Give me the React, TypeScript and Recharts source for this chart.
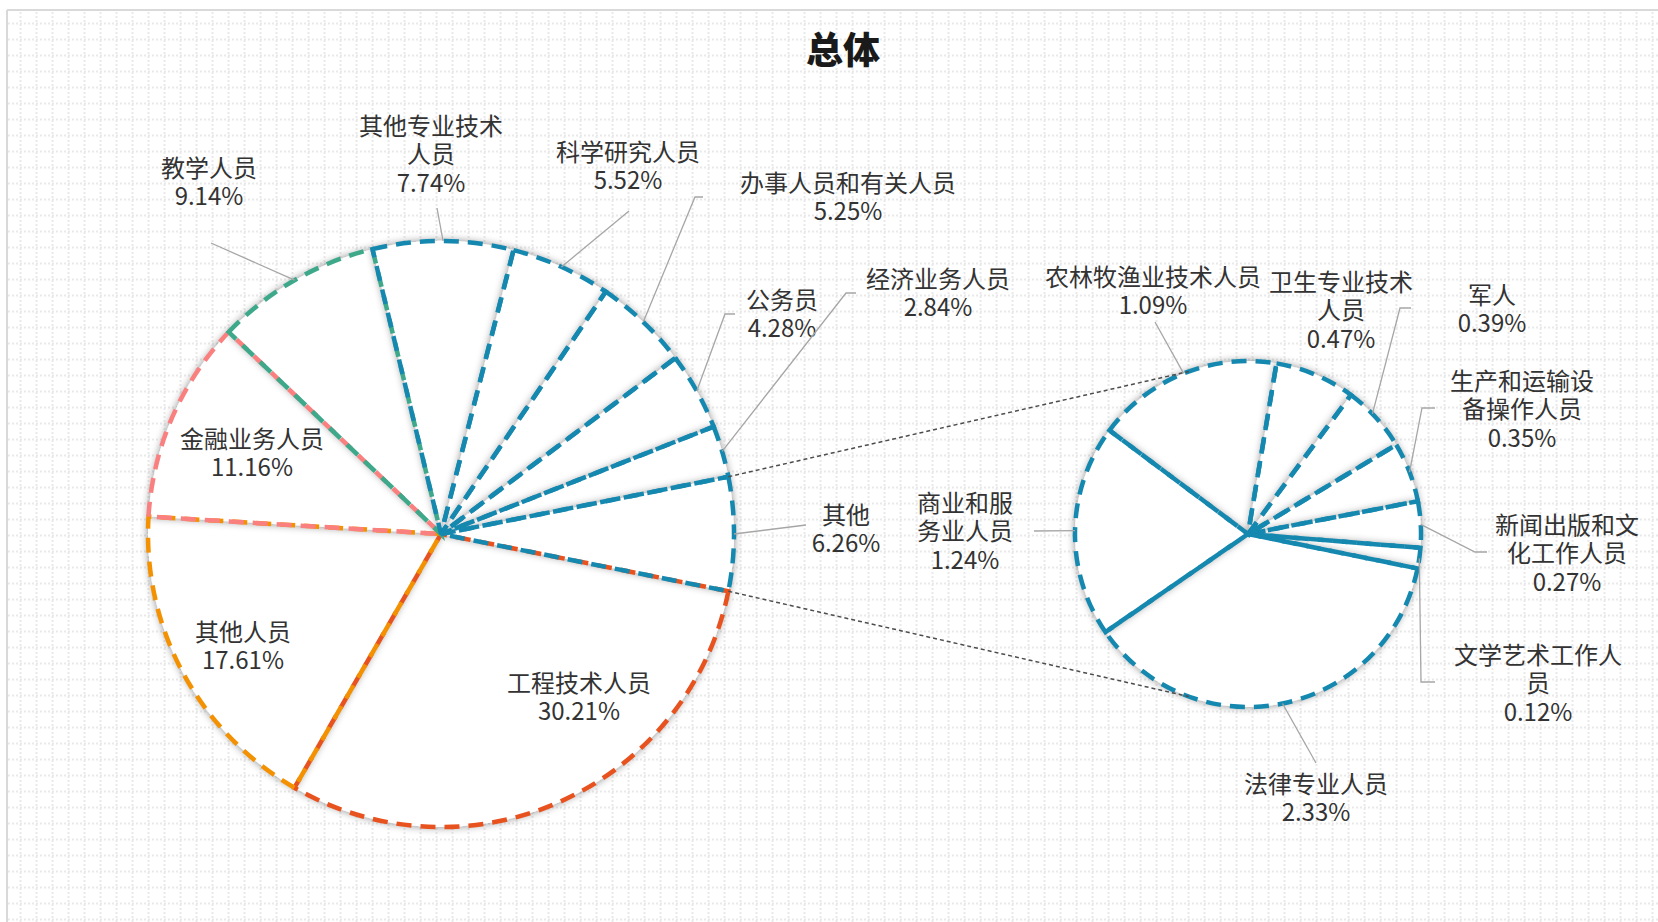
import React from 'react';
import { PieChart, Pie, Cell } from 'recharts';

// ---------- data ----------
const mainCategories = ['工程技术人员', '其他人员', '金融业务人员', '教学人员', '其他专业技术人员', '科学研究人员', '办事人员和有关人员', '公务员', '经济业务人员', '其他'];
const mainValues = [30.21, 17.61, 11.16, 9.14, 7.74, 5.52, 5.25, 4.28, 2.84, 6.26];
const mainLabelLines = [['工程技术人员'], ['其他人员'], ['金融业务人员'], ['教学人员'], ['其他专业技术', '人员'], ['科学研究人员'], ['办事人员和有关人员'], ['公务员'], ['经济业务人员'], ['其他']];

const subCategories = ['农林牧渔业技术人员', '卫生专业技术人员', '军人', '生产和运输设备操作人员', '新闻出版和文化工作人员', '文学艺术工作人员', '法律专业人员', '商业和服务业人员'];
const subValues = [1.09, 0.47, 0.39, 0.35, 0.27, 0.12, 2.33, 1.24];
const subLabelLines = [['农林牧渔业技术人员'], ['卫生专业技术', '人员'], ['军人'], ['生产和运输设', '备操作人员'], ['新闻出版和文', '化工作人员'], ['文学艺术工作人', '员'], ['法律专业人员'], ['商业和服', '务业人员']];

const title = '总体';

// ---------- style / layout ----------
const TEAL = '#1588B0';
const mainColors = ['#E8521E', '#F39100', '#FA8080', '#3DA98A', TEAL, TEAL, TEAL, TEAL, TEAL, TEAL];
const subColors = subValues.map(() => TEAL);

const W = 1658;
const H = 922;
const MAIN = { cx: 441, cy: 534, r: 293 };
const SUB = { cx: 1248, cy: 534, r: 173 };
const mainTotal = mainValues.reduce((a, b) => a + b, 0);
const otherHalf = (mainValues[mainValues.length - 1] / mainTotal) * 180;
const MAIN_START = -otherHalf;
const SUB_START = 143.2;
const CONNECT_ANGLE = 110;
const LINE_STEP = 28.5;
const FONT = '"Noto Sans CJK SC", "Noto Sans", sans-serif';
const STROKE_W = 4.5;
const DASH = '15 9';

type Lay = { tx: number; ty: number; pts?: number[][]; aShift?: number };
const mainLayout: Lay[] = [
  { tx: 138, ty: 147 },
  { tx: -198, ty: 96 },
  { tx: -189, ty: -97 },
  { tx: -232, ty: -368, pts: [[-230, -291]] },
  { tx: -10, ty: -410, pts: [[-4, -326]] },
  { tx: 187, ty: -384, pts: [[188, -323]] },
  { tx: 407, ty: -353, pts: [[254, -337], [262, -337]] },
  { tx: 341, ty: -236, pts: [[284, -220], [294, -220]] },
  { tx: 497, ty: -257, pts: [[405, -241], [415, -241]] },
  { tx: 405, ty: -21, pts: [[365, -9]] },
];
const subLayout: Lay[] = [
  { tx: -95, ty: -259, pts: [[-93, -212]] },
  { tx: 93, ty: -254, pts: [[152, -226], [163, -226]], aShift: -23 },
  { tx: 244, ty: -241 },
  { tx: 274, ty: -155, pts: [[174, -126], [187, -126]] },
  { tx: 319, ty: -11, pts: [[227, 18], [239, 18]] },
  { tx: 290, ty: 119, pts: [[173, 148], [187, 148]] },
  { tx: 68, ty: 248, pts: [[68, 229]] },
  { tx: -283, ty: -33, pts: [[-214, -3]] },
];

const mainData = mainCategories.map((name, i) => ({ name, value: mainValues[i] }));
const subData = subCategories.map((name, i) => ({ name, value: subValues[i] }));

const RAD = Math.PI / 180;
const polar = (cx: number, cy: number, r: number, a: number) => [cx + r * Math.cos(-a * RAD), cy + r * Math.sin(-a * RAD)];

function makeLabel(layout: Lay[], lines: string[][], geo: { cx: number; cy: number; r: number }, isMain: boolean) {
  return (props: any) => {
    const { index, midAngle, value } = props;
    const cx = props.cx ?? geo.cx;
    const cy = props.cy ?? geo.cy;
    const r = props.outerRadius ?? geo.r;
    const lay = layout[index];
    const txt = [...lines[index], `${Number(value).toFixed(2)}%`];
    let leader = null;
    if (lay.pts) {
      const s = polar(cx, cy, r, midAngle + (lay.aShift || 0));
      const pts = [s, ...lay.pts.map((p) => [cx + p[0], cy + p[1]])];
      leader = <polyline points={pts.map((p) => p.join(',')).join(' ')} fill="none" stroke="#A6A6A6" strokeWidth={1.3} />;
    }
    let connectors = null;
    if (isMain && index === mainCategories.length - 1) {
      const sa = props.startAngle ?? otherHalf;
      const ea = props.endAngle ?? -otherHalf;
      const top = polar(cx, cy, r, Math.max(sa, ea));
      const bot = polar(cx, cy, r, Math.min(sa, ea));
      const t2 = polar(SUB.cx, SUB.cy, SUB.r, CONNECT_ANGLE);
      const b2 = polar(SUB.cx, SUB.cy, SUB.r, -CONNECT_ANGLE);
      connectors = (
        <g>
          <line x1={top[0]} y1={top[1]} x2={t2[0]} y2={t2[1]} stroke="#4D4D4D" strokeWidth={1.5} strokeDasharray="4 3" />
          <line x1={bot[0]} y1={bot[1]} x2={b2[0]} y2={b2[1]} stroke="#4D4D4D" strokeWidth={1.5} strokeDasharray="4 3" />
        </g>
      );
    }
    const x = cx + lay.tx;
    const y0 = cy + lay.ty;
    return (
      <g key={`lab-${isMain ? 'm' : 's'}-${index}`}>
        {connectors}
        {leader}
        <text x={x} y={y0} textAnchor="middle" fontFamily={FONT} fontSize={24} fill="#333333">
          {txt.map((t, k) => (
            <tspan key={k} x={x} y={y0 + k * LINE_STEP} dominantBaseline="central">
              {t}
            </tspan>
          ))}
        </text>
      </g>
    );
  };
}

export default function App() {
  return (
    <div style={{ position: 'absolute', left: 0, top: 0, width: W, height: H, background: '#fff', overflow: 'hidden' }}>
      <svg width={W} height={H} style={{ position: 'absolute', left: 0, top: 0 }}>
        <defs>
          <pattern id="grid" x={0} y={0} width={16} height={16} patternUnits="userSpaceOnUse">
            <line x1={0} y1={7.5} x2={16} y2={7.5} stroke="#E9E9E9" strokeWidth={2} strokeDasharray="2 2" />
            <line x1={4.5} y1={0} x2={4.5} y2={16} stroke="#E9E9E9" strokeWidth={2} strokeDasharray="2 2" />
          </pattern>
          <filter id="sh" x="-30%" y="-30%" width="160%" height="160%">
            <feGaussianBlur in="SourceAlpha" stdDeviation={4.5} result="b" />
            <feFlood floodColor="#000" floodOpacity={0.48} />
            <feComposite in2="b" operator="in" result="s" />
            <feMerge>
              <feMergeNode in="s" />
              <feMergeNode in="SourceGraphic" />
            </feMerge>
          </filter>
        </defs>
        <rect x={7} y={10} width={W} height={H} fill="url(#grid)" />
        <line x1={7} y1={10} x2={W} y2={10} stroke="#D9D9D9" strokeWidth={2} />
        <line x1={7} y1={10} x2={7} y2={H} stroke="#D9D9D9" strokeWidth={2} />
        <text x={843} y={48} textAnchor="middle" dominantBaseline="central" fontFamily={FONT} fontSize={37} fontWeight={900} fill="#1A1A1A">
          {title}
        </text>
      </svg>
      <div style={{ position: 'absolute', left: 0, top: 0 }}>
        <PieChart width={W} height={H} margin={{ top: 0, right: 0, bottom: 0, left: 0 }}>
          {/* white filled slices with shadow */}
          <Pie
            data={mainData}
            dataKey="value"
            nameKey="name"
            cx={MAIN.cx}
            cy={MAIN.cy}
            innerRadius={0}
            outerRadius={MAIN.r}
            startAngle={MAIN_START}
            endAngle={MAIN_START - 360}
            isAnimationActive={false}
            label={false}
            labelLine={false}
          >
            {mainData.map((d) => (
              <Cell key={d.name} fill="#FFFFFF" stroke="none" filter="url(#sh)" />
            ))}
          </Pie>
          <Pie
            data={subData}
            dataKey="value"
            nameKey="name"
            cx={SUB.cx}
            cy={SUB.cy}
            innerRadius={0}
            outerRadius={SUB.r}
            startAngle={SUB_START}
            endAngle={SUB_START - 360}
            isAnimationActive={false}
            label={false}
            labelLine={false}
          >
            {subData.map((d) => (
              <Cell key={d.name} fill="#FFFFFF" stroke="none" filter="url(#sh)" />
            ))}
          </Pie>
          {/* dashed outlines + labels */}
          <Pie
            data={mainData}
            dataKey="value"
            nameKey="name"
            cx={MAIN.cx}
            cy={MAIN.cy}
            innerRadius={0}
            outerRadius={MAIN.r}
            startAngle={MAIN_START}
            endAngle={MAIN_START - 360}
            isAnimationActive={false}
            label={makeLabel(mainLayout, mainLabelLines, MAIN, true)}
            labelLine={false}
          >
            {mainData.map((d, i) => (
              <Cell key={d.name} fill="none" stroke={mainColors[i]} strokeWidth={STROKE_W} strokeDasharray={DASH} />
            ))}
          </Pie>
          <Pie
            data={subData}
            dataKey="value"
            nameKey="name"
            cx={SUB.cx}
            cy={SUB.cy}
            innerRadius={0}
            outerRadius={SUB.r}
            startAngle={SUB_START}
            endAngle={SUB_START - 360}
            isAnimationActive={false}
            label={makeLabel(subLayout, subLabelLines, SUB, false)}
            labelLine={false}
          >
            {subData.map((d, i) => (
              <Cell key={d.name} fill="none" stroke={subColors[i]} strokeWidth={STROKE_W} strokeDasharray={DASH} />
            ))}
          </Pie>
        </PieChart>
      </div>
    </div>
  );
}
